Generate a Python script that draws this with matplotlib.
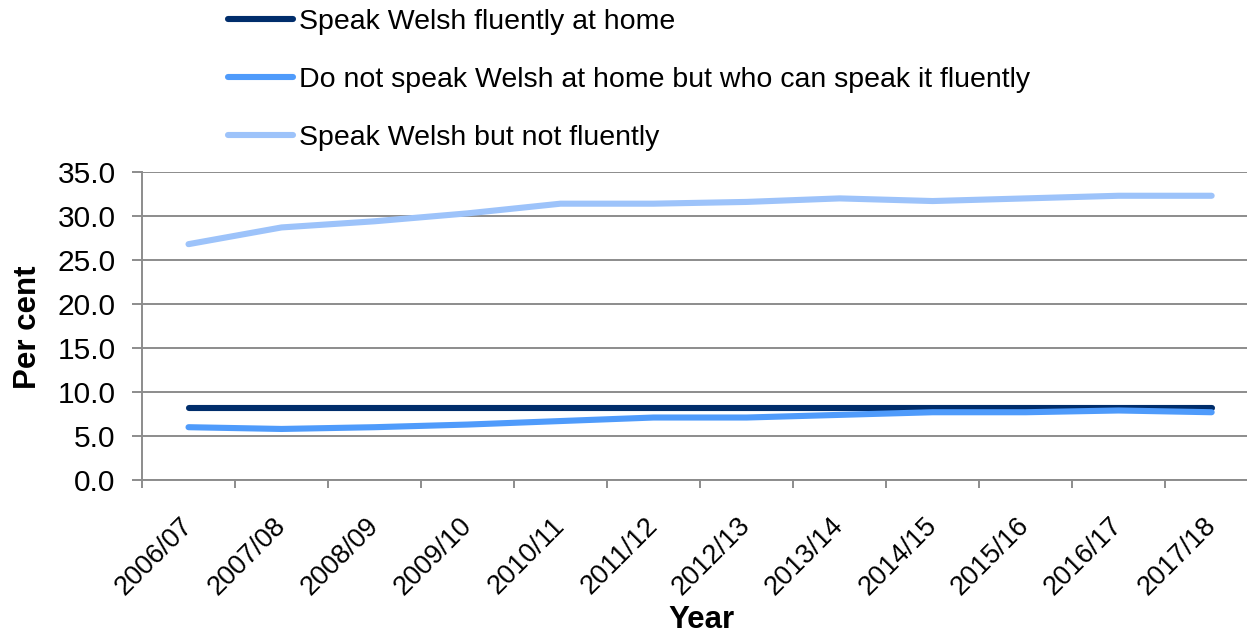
import matplotlib
matplotlib.use('Agg')
import matplotlib.pyplot as plt
import numpy as np

plt.rcParams['font.family'] = ['Liberation Sans', 'DejaVu Sans']

# Veriler
years = ['2006/07', '2007/08', '2008/09', '2009/10', '2010/11', '2011/12',
         '2012/13', '2013/14', '2014/15', '2015/16', '2016/17', '2017/18']
fluent_home = [8.2, 8.2, 8.2, 8.2, 8.2, 8.2, 8.2, 8.2, 8.2, 8.2, 8.2, 8.2]
fluent_not_home = [6.0, 5.8, 6.0, 6.3, 6.7, 7.1, 7.1, 7.4, 7.7, 7.7, 7.9, 7.7]
not_fluent = [26.8, 28.7, 29.4, 30.3, 31.4, 31.4, 31.6, 32.0, 31.7, 32.0, 32.3, 32.3]

labels = ['Speak Welsh fluently at home',
          'Do not speak Welsh at home but who can speak it fluently',
          'Speak Welsh but not fluently']
colors = ['#002d6b', '#4f9bfb', '#9dc3fa']

fig = plt.figure(figsize=(12.47, 6.37), dpi=100)
ax = fig.add_axes([142 / 1247, 1 - 480 / 637, 1 - 142 / 1247, (480 - 172) / 637])

x = np.arange(len(years))
for vals, lab, col in zip([fluent_home, fluent_not_home, not_fluent], labels, colors):
    ax.plot(x, vals, color=col, lw=4.4, label=lab, solid_capstyle='round',
            solid_joinstyle='round')

# Eksenler
ax.set_ylim(0, 35)
ax.set_yticks(np.arange(0, 36, 5))
ax.set_yticklabels([f'{v:.1f}' for v in np.arange(0, 36, 5)], fontsize=21.5)
ax.grid(axis='y', color='#8c8c8c', lw=1.4)
ax.set_axisbelow(True)

ax.set_xlim(-0.5, 11.38)
ax.set_xticks(np.arange(-0.5, 11, 1))
ax.set_xticklabels([])
ax.set_xticks(x, minor=True)
ax.set_xticklabels(years, minor=True, fontsize=19.5, rotation=45,
                   ha='right', va='center', rotation_mode='anchor')
ax.tick_params(axis='x', which='minor', length=0, pad=30)
ax.tick_params(axis='x', which='major', length=6, width=1.4, color='#8c8c8c')
ax.tick_params(axis='y', length=7, width=1.4, color='#8c8c8c', pad=12)

for s in ['top', 'right']:
    ax.spines[s].set_visible(False)
for s in ['left', 'bottom']:
    ax.spines[s].set_color('#8c8c8c')
    ax.spines[s].set_linewidth(1.4)

fig.text(28 / 1247, 1 - 327 / 637, 'Per cent', rotation=90, fontsize=22.5,
         fontweight='bold', ha='center', va='center')
fig.text(701 / 1247, 1 - 620 / 637, 'Year', fontsize=22.5, fontweight='bold',
         ha='center', va='center')

fig.legend(loc='upper left', bbox_to_anchor=(228 / 1247, 1 - 9 / 637),
           frameon=False, fontsize=20.5, handlelength=2.3, handletextpad=0.2,
           labelspacing=1.12, borderpad=0, borderaxespad=0)

fig.savefig('out.png', dpi=100)
